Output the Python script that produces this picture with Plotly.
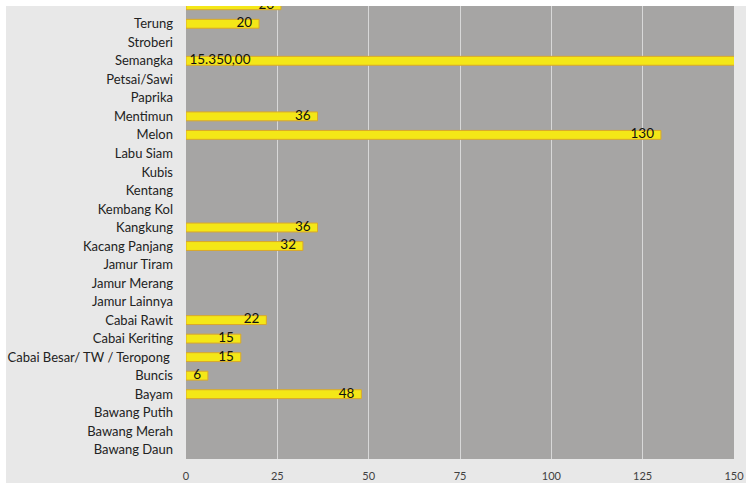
import plotly.graph_objects as go

# Categories bottom-to-top
categories = ["Bawang Daun", "Bawang Merah", "Bawang Putih", "Bayam", "Buncis",
              "Cabai Besar/ TW / Teropong ", "Cabai Keriting", "Cabai Rawit",
              "Jamur Lainnya", "Jamur Merang", "Jamur Tiram", "Kacang Panjang",
              "Kangkung", "Kembang Kol", "Kentang", "Kubis", "Labu Siam", "Melon",
              "Mentimun", "Paprika", "Petsai/Sawi", "Semangka", "Stroberi",
              "Terung", "Tomat"]
values = [None, None, None, 48, 6,
          15, 15, 22,
          None, None, None, 32,
          36, None, None, None, None, 130,
          36, None, None, 15350, None,
          20, 26]
x_ticks = [0, 25, 50, 75, 100, 125, 150]
axis_max = 150


def fmt(v):
    if v is None:
        return ""
    if v > axis_max:
        s = f"{v:,.2f}"
        return s.replace(",", "X").replace(".", ",").replace("X", ".")
    return f"{v:g}"


font_family = "Lato, Open Sans, sans-serif"
NB = "\u00a0"

# label positions: end of bar for values inside range, start of bar for overflowing ones
lab_x, lab_y, lab_t, lab_pos = [], [], [], []
for c, v in zip(categories, values):
    if v is None:
        continue
    lab_y.append(c)
    if v > axis_max:
        lab_x.append(0)
        lab_t.append(NB + fmt(v))
        lab_pos.append("middle right")
    else:
        lab_x.append(v)
        lab_t.append(fmt(v) + NB + NB)
        lab_pos.append("middle left")

fig = go.Figure()
fig.add_trace(go.Bar(
    y=categories, x=values, orientation="h",
    marker=dict(color="#f4e717", line=dict(color="#d9a82a", width=1)),
    cliponaxis=True, showlegend=False, hoverinfo="skip",
))
fig.add_trace(go.Scatter(
    y=lab_y, x=lab_x, mode="text", text=lab_t, textposition=lab_pos,
    textfont=dict(color="#111111", size=13.5, family=font_family),
    cliponaxis=True, showlegend=False, hoverinfo="skip",
))

fig.update_layout(
    width=746, height=483,
    margin=dict(l=186, r=12, t=6, b=24),
    paper_bgcolor="#e8e8e8",
    plot_bgcolor="#a6a5a4",
    bargap=0.52,
    font=dict(family=font_family, color="#222222", size=13),
    xaxis=dict(
        range=[0, axis_max], tickvals=x_ticks, ticktext=[str(t) for t in x_ticks],
        showgrid=True, gridcolor="#d8d8d8", gridwidth=1,
        zeroline=False, showline=False, automargin=False,
        tickfont=dict(size=11, color="#404040"),
        ticklabelstandoff=9,
    ),
    yaxis=dict(
        type="category", categoryorder="array", categoryarray=categories,
        range=[-0.5, 23.96], showgrid=False, zeroline=False, showline=False,
        automargin=False,
        tickfont=dict(size=13, color="#222222"),
        ticklabelstandoff=12,
    ),
    shapes=[
        dict(type="rect", xref="paper", yref="paper",
             x0=-1, x1=1.1, y0=1.0, y1=1.1, fillcolor="white",
             line=dict(width=0), layer="above"),
        dict(type="rect", xref="paper", yref="paper",
             x0=-186 / 548, x1=-180 / 548, y0=-0.1, y1=1.1, fillcolor="white",
             line=dict(width=0), layer="above"),
    ],
)

fig.write_html(
    "out.html",
    config={"displayModeBar": False},
    post_script="document.body.style.margin='0';document.body.style.overflow='hidden';",
)
